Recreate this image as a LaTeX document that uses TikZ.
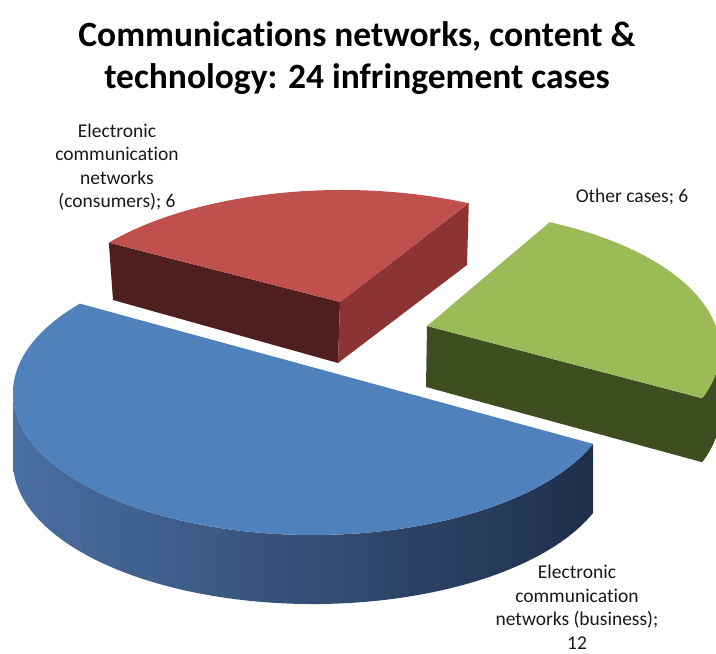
\documentclass[tikz,border=0pt]{standalone}
\usepackage{fontspec}
\setmainfont{Carlito}[RawFeature={-liga,-clig,-dlig,-calt}]
\newcommand\tisep{\kern0pt }
\definecolor{bluetop}{HTML}{4F81BD}
\definecolor{blueL}{HTML}{4A6FA3}
\definecolor{blueR}{HTML}{1F2F4A}
\definecolor{redtop}{HTML}{C0504D}
\definecolor{redleft}{HTML}{4F1E1E}
\definecolor{redright}{HTML}{8B3433}
\definecolor{greentop}{HTML}{9BBB59}
\definecolor{greenside}{HTML}{3F4E20}
\begin{document}
\begin{tikzpicture}[x=1pt,y=1pt,
  titlestyle/.style={align=center,font=\fontsize{35.5}{42}\selectfont\bfseries,text=black,inner sep=0pt},
  labstyle/.style={align=center,font=\fontsize{19.5}{23.5}\selectfont,text=black!90,inner sep=0pt}]
\useasboundingbox (0,0) rectangle (716,654);
\clip (0,0) rectangle (716,654);
% red slice
\coordinate (rc) at (342,322);
\coordinate (rapex) at (340,352);
\path (rc) ++(141:300 and 142) coordinate (rl);
\path (rc) ++(65:300 and 142) coordinate (rr);
\coordinate (rlb) at (113,354);
\coordinate (rab) at (338,291);
\coordinate (rrb) at (467,389);
\fill[redleft] (rl) -- (rapex) -- (rab) -- (rlb) -- cycle;
\fill[redright] (rapex) -- (rr) -- (rrb) -- (rab) -- cycle;
\fill[redtop] (rapex) -- (rl) arc[start angle=141, end angle=65, x radius=300, y radius=142] -- cycle;
% green slice
\coordinate (gc) at (425,304);
\coordinate (gapex) at (427,328);
\coordinate (gab) at (426,267);
\path (gc) ++(-20:295 and 141) coordinate (gf);
\path (gf) ++(0,-64) coordinate (gfb);
\fill[greenside] (gapex) -- (gf) -- (gfb) -- (gab) -- cycle;
\fill[greenside] (gf) arc[start angle=-20, end angle=0, x radius=295, y radius=141] -- ++(0,-64) arc[start angle=0, end angle=-20, x radius=295, y radius=141] -- cycle;
\fill[greentop] (gapex) -- (gf) arc[start angle=-20, end angle=65, x radius=295, y radius=141] -- cycle;
% blue slice
\coordinate (bc) at (313,261);
\path (bc) ++(141:300 and 142) coordinate (bl);
\path (bc) ++(180:300 and 142) coordinate (bw);
\shade[left color=blueL, right color=blueR] (bw) arc[start angle=180, end angle=339, x radius=300, y radius=142] -- ++(0,-69) arc[start angle=339, end angle=180, x radius=300, y radius=142] -- cycle;
\fill[bluetop] (bl) arc[start angle=141, end angle=339, x radius=300, y radius=142] -- cycle;
% texts
\node[titlestyle] (title) at (357,596) {Communica\tisep tions networks, content \&\\technology: 24 infringement cases};
\node[labstyle] (labcons) at (117,487) {Electronic\\communica\tisep tion\\networks\\(consumers); 6};
\node[labstyle] (labother) at (632,457) {Other cases; 6};
\node[labstyle] (labbus) at (577,47) {Electronic\\communica\tisep tion\\networks (business);\\12};
\end{tikzpicture}
\end{document}
